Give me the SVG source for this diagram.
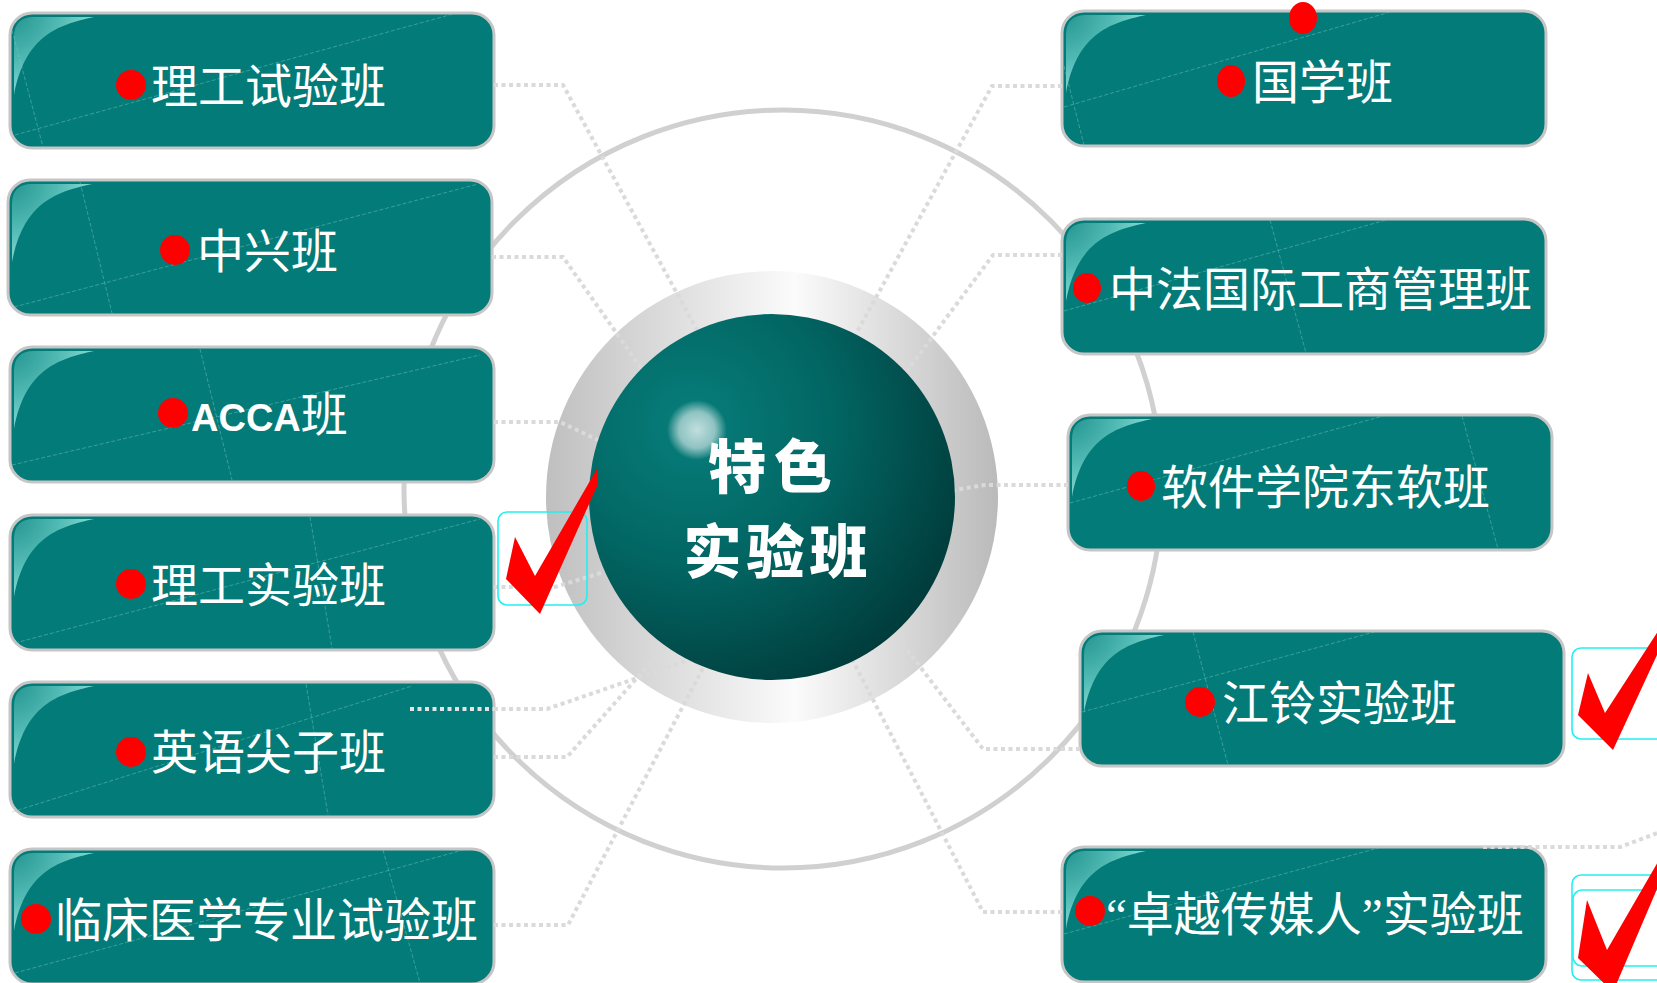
<svg xmlns="http://www.w3.org/2000/svg" xmlns:xlink="http://www.w3.org/1999/xlink" width="1657" height="983" viewBox="0 0 1657 983">
<defs>
<style>
.boxbg{fill:#037b78;stroke:#c6c6c6;stroke-width:3}
.swoosh{fill:url(#swooshGrad)}
.deco{stroke:#7fc9c4;stroke-width:1;stroke-dasharray:4 2;opacity:0.45;fill:none}
.dot{fill:#ff0000}
.lbl{font-family:"Liberation Serif","Noto Sans CJK SC",sans-serif;font-size:47px;fill:#ffffff}
.latin{font-family:"Liberation Sans",sans-serif;font-weight:bold;font-size:38px}
.conn{fill:none;stroke:#dadada;stroke-width:4;stroke-dasharray:4 3.5}
.conn-in{fill:none;stroke:#e4e4e4;stroke-width:4;stroke-dasharray:4 3.5}
.check{fill:#ff0000}
.cbox{fill:none;stroke:#22f0f0;stroke-width:1.6}
.ctext{font-family:"Noto Sans CJK SC",sans-serif;font-weight:900;font-size:58px;fill:#ffffff;text-anchor:middle}
</style>
<radialGradient id="swooshGrad" gradientUnits="userSpaceOnUse" cx="0" cy="0" r="90">
<stop offset="0" stop-color="#1f918c"/>
<stop offset="0.55" stop-color="#52bab4"/>
<stop offset="1" stop-color="#90ded8"/>
</radialGradient>
<linearGradient id="ringGrad" x1="0" y1="0" x2="1" y2="0">
<stop offset="0" stop-color="#bfbfbf"/>
<stop offset="0.55" stop-color="#fbfbfb"/>
<stop offset="1" stop-color="#bababa"/>
</linearGradient>
<radialGradient id="coreGrad" cx="0.28" cy="0.3" r="0.85">
<stop offset="0" stop-color="#077e7b"/>
<stop offset="0.45" stop-color="#026663"/>
<stop offset="1" stop-color="#003636"/>
</radialGradient>
<radialGradient id="hiGrad" cx="0.5" cy="0.5" r="0.5">
<stop offset="0" stop-color="#ffffff" stop-opacity="0.75"/>
<stop offset="0.6" stop-color="#ffffff" stop-opacity="0.55"/>
<stop offset="1" stop-color="#ffffff" stop-opacity="0"/>
</radialGradient>
<g id="boxShape">
<rect class="boxbg" x="0" y="0" width="484" height="135" rx="22"/>
<path class="swoosh" d="M4 82 L4 24 Q4 4 24 4 L84 4 C46 12 15 24 4 82 Z"/>
</g>
</defs>

<rect width="1657" height="983" fill="#ffffff"/>

<circle id="outer-ring" cx="783" cy="489" r="379" fill="none" stroke="#d0d0d0" stroke-width="5"/>

<g id="node-ligong-shiyan" transform="translate(10,13)">
<use href="#boxShape"/>
<line class="deco" x1="5" y1="122" x2="443" y2="1"/>
<line class="deco" x1="2" y1="17" x2="33" y2="134"/>
<circle class="dot" cx="121" cy="72" r="15"/>
<text class="lbl" x="141" y="90">理工试验班</text>
</g>

<g id="node-zhongxing" transform="translate(8,180)">
<use href="#boxShape"/>
<line class="deco" x1="6" y1="127" x2="470" y2="4"/>
<line class="deco" x1="72" y1="2" x2="104" y2="133"/>
<circle class="dot" cx="167" cy="70" r="15"/>
<text class="lbl" x="189" y="88">中兴班</text>
</g>

<g id="node-acca" transform="translate(10,347)">
<use href="#boxShape"/>
<line class="deco" x1="2" y1="118" x2="470" y2="8"/>
<line class="deco" x1="190" y1="2" x2="222" y2="133"/>
<circle class="dot" cx="163" cy="66" r="15"/>
<text class="lbl" x="181" y="84"><tspan class="latin">ACCA</tspan>班</text>
</g>

<g id="node-ligong-shiyan2" transform="translate(10,515)">
<use href="#boxShape"/>
<line class="deco" x1="5" y1="128" x2="470" y2="4"/>
<line class="deco" x1="300" y1="2" x2="322" y2="133"/>
<circle class="dot" cx="121" cy="69" r="15"/>
<text class="lbl" x="141" y="87">理工实验班</text>
</g>

<g id="node-yingyu" transform="translate(10,682)">
<use href="#boxShape"/>
<line class="deco" x1="2" y1="130" x2="402" y2="4"/>
<line class="deco" x1="296" y1="2" x2="318" y2="133"/>
<circle class="dot" cx="121" cy="70" r="15"/>
<text class="lbl" x="141" y="87">英语尖子班</text>
</g>

<g id="node-linchuang" transform="translate(10,849)">
<use href="#boxShape"/>
<line class="deco" x1="5" y1="124" x2="453" y2="1"/>
<line class="deco" x1="373" y1="1" x2="410" y2="134"/>
<circle class="dot" cx="26" cy="70" r="15"/>
<text class="lbl" x="45" y="88">临床医学专业试验班</text>
</g>

<g id="node-guoxue" transform="translate(1062,11)">
<use href="#boxShape"/>
<line class="deco" x1="2" y1="96" x2="328" y2="1"/>
<line class="deco" x1="2" y1="55" x2="22" y2="134"/>
<ellipse class="dot" cx="169" cy="70" rx="14" ry="16"/>
<ellipse class="dot" cx="241" cy="7" rx="14" ry="16"/>
<text class="lbl" x="190" y="88">国学班</text>
</g>

<g id="node-zhongfa" transform="translate(1062,219)">
<use href="#boxShape"/>
<line class="deco" x1="2" y1="92" x2="324" y2="1"/>
<line class="deco" x1="208" y1="1" x2="244" y2="134"/>
<ellipse class="dot" cx="25" cy="69" rx="14" ry="15"/>
<text class="lbl" x="47" y="87">中法国际工商管理班</text>
</g>

<g id="node-ruanjian" transform="translate(1068,415)">
<use href="#boxShape"/>
<line class="deco" x1="2" y1="88" x2="315" y2="1"/>
<line class="deco" x1="394" y1="1" x2="430" y2="134"/>
<ellipse class="dot" cx="73" cy="71" rx="14" ry="15"/>
<text class="lbl" x="93" y="89">软件学院东软班</text>
</g>

<g id="node-jiangling" transform="translate(1080,631)">
<use href="#boxShape"/>
<line class="deco" x1="2" y1="81" x2="294" y2="1"/>
<line class="deco" x1="113" y1="1" x2="148" y2="134"/>
<circle class="dot" cx="120" cy="71" r="15"/>
<text class="lbl" x="142" y="89">江铃实验班</text>
</g>

<g id="node-zhuoyue" transform="translate(1062,847)">
<use href="#boxShape"/>
<line class="deco" x1="2" y1="87" x2="316" y2="1"/>
<circle class="dot" cx="28" cy="64" r="15"/>
<text class="lbl" x="44" y="84">“卓越传媒人”实验班</text>
</g>

<g id="center-ring">
<circle cx="772" cy="497" r="226" fill="url(#ringGrad)"/>
</g>

<g id="connectors">
<path class="conn" d="M494 85 H563 L697 330"/>
<path class="conn" d="M492 257 H563 L641 368"/>
<path class="conn" d="M494 422 H560 L598 440"/>
<path class="conn" d="M494 587 H555 L604 572"/>
<path class="conn-in" d="M410 709 H494"/>
<path class="conn" d="M494 709 H547 L640 677 L700 656"/>
<path class="conn" d="M494 757 H567 L637 678 L667 644"/>
<path class="conn" d="M494 925 H568 L703 668"/>
<path class="conn" d="M1062 86 H992 L856 334"/>
<path class="conn" d="M1062 255 H993 L907 371"/>
<path class="conn" d="M1068 485 H985 L955 490"/>
<path class="conn" d="M1080 749 H983 L895 634"/>
<path class="conn" d="M1062 912 H983 L853 661"/>
<path class="conn" d="M1483 847 H1620 L1660 832"/>
</g>

<g id="center">
<circle cx="772" cy="497" r="183" fill="url(#coreGrad)"/>
<circle cx="697" cy="430" r="30" fill="url(#hiGrad)"/>
<text class="ctext"><tspan x="774" y="488" letter-spacing="8">特色</tspan><tspan x="778" y="573" letter-spacing="5">实验班</tspan></text>
</g>

<g id="checks">
<rect class="cbox" x="498" y="512" width="89" height="93" rx="9"/>
<polygon class="check" points="598,467 598,484 540,614 506,579 515,537 535,576"/>
<rect class="cbox" x="1572" y="648" width="95" height="91" rx="9"/>
<polygon class="check" points="1664,622 1664,640 1613,750 1578,715 1588,673 1605,713"/>
<rect class="cbox" x="1572" y="875" width="95" height="105" rx="9"/>
<rect class="cbox" x="1573" y="890" width="95" height="76" rx="9"/>
<polygon class="check" points="1666,848 1666,868 1613,992 1578,958 1587,900 1607,950"/>
</g>
</svg>
